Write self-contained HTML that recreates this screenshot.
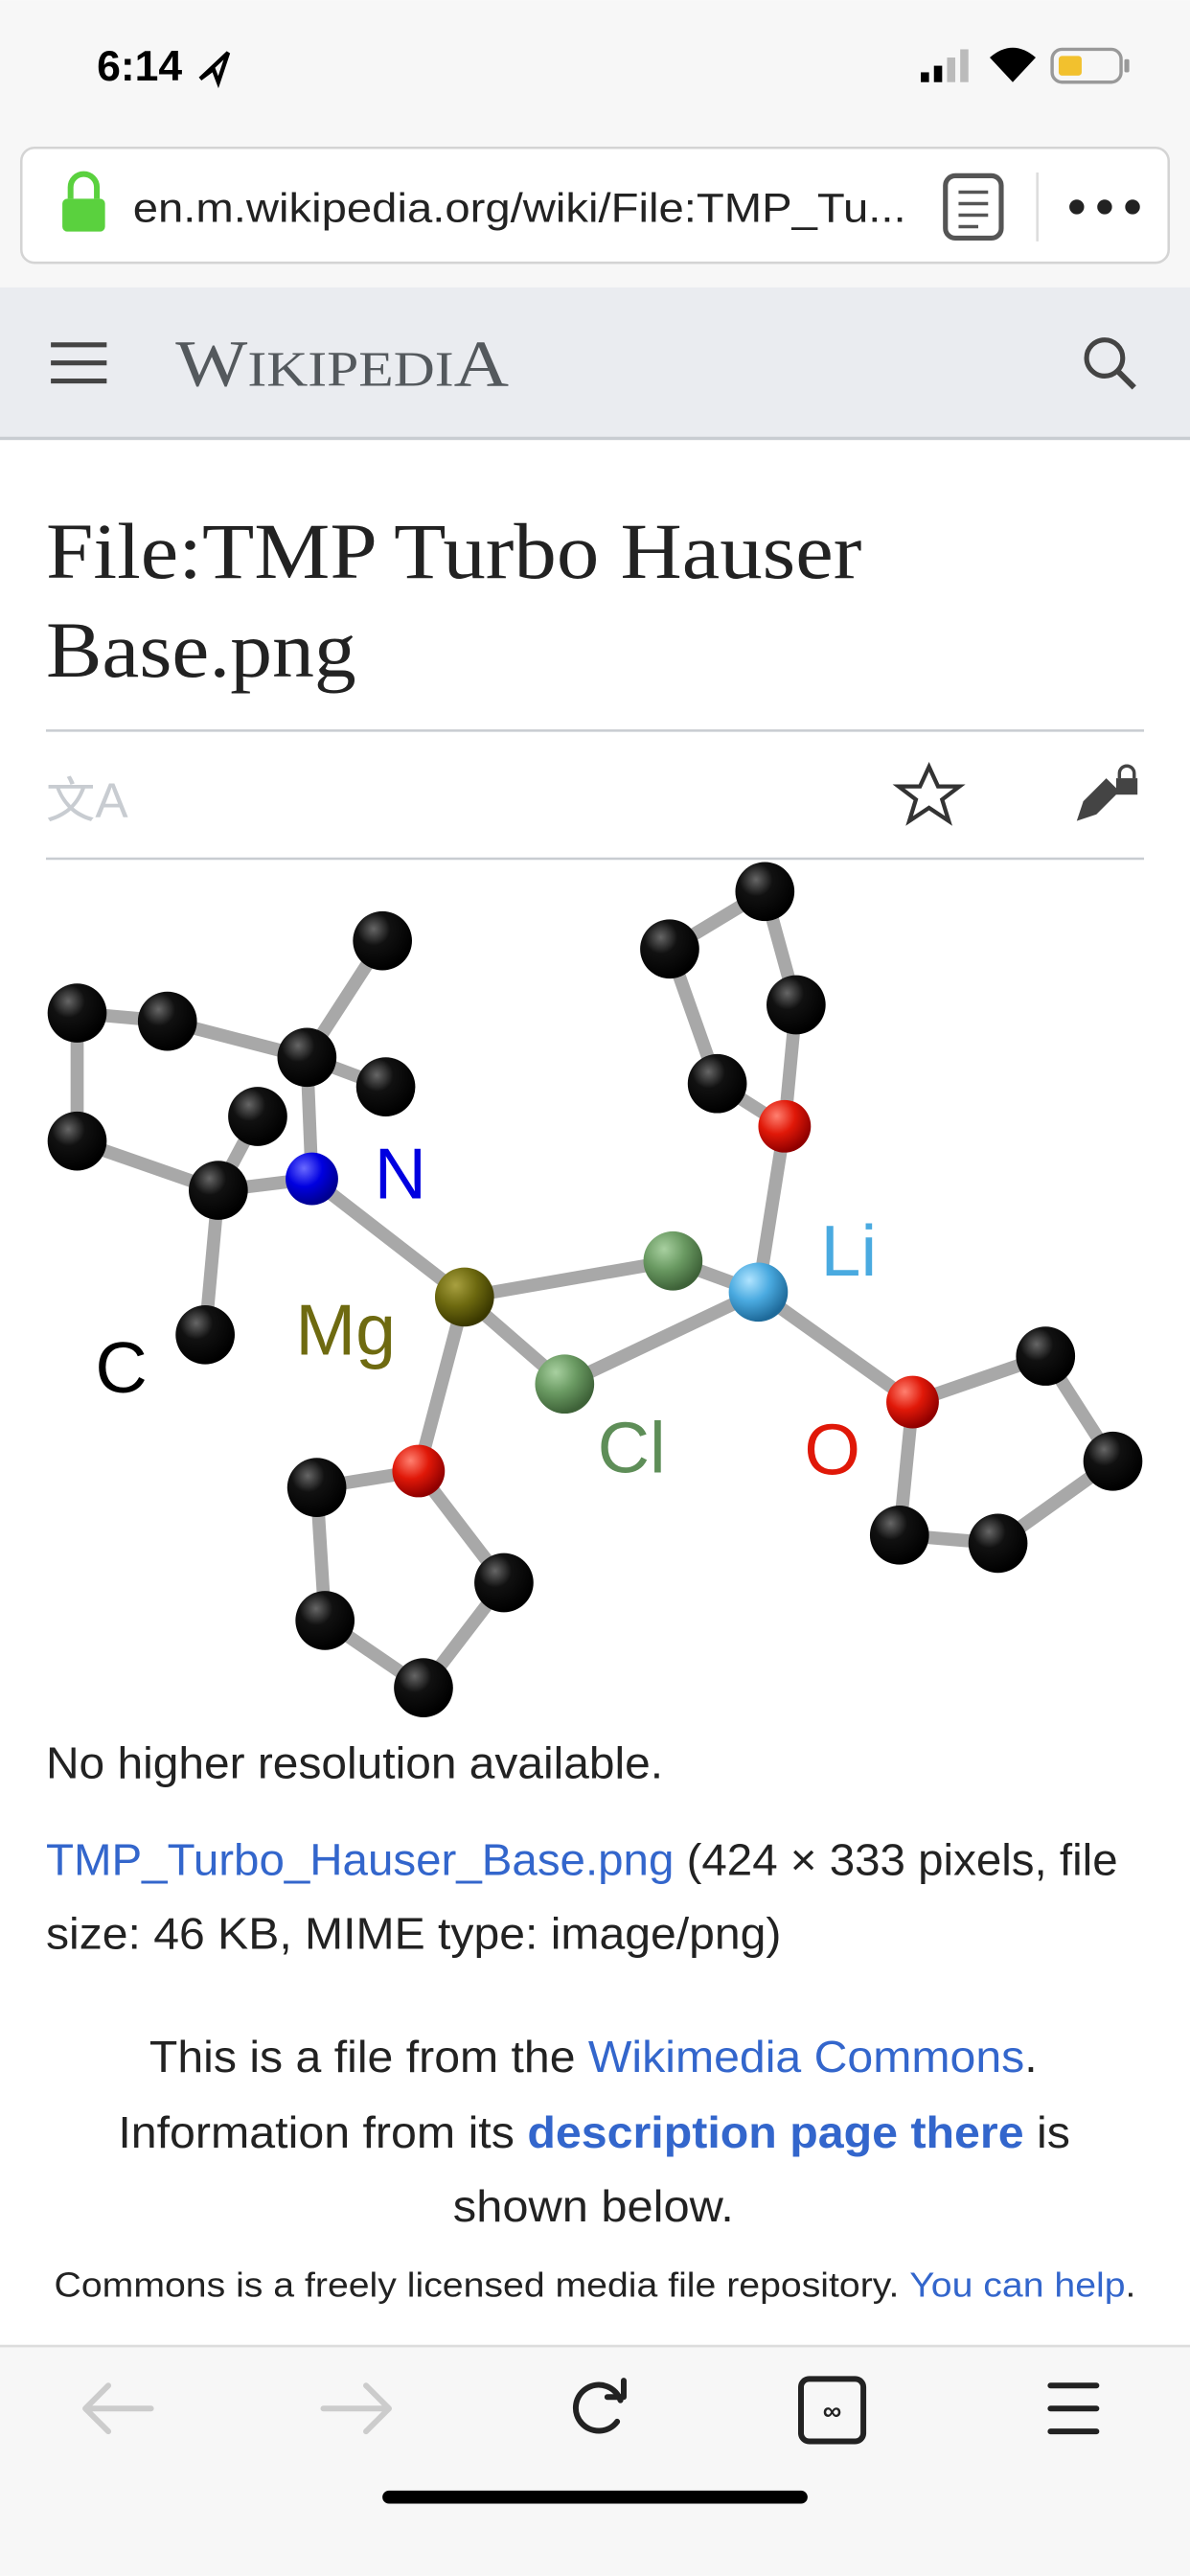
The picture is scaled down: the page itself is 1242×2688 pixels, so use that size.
<!DOCTYPE html>
<html><head><meta charset="utf-8"><style>
html,body{margin:0;padding:0;background:#fff;}
svg{display:block;}
</style></head><body>
<svg width="1242" height="2688" viewBox="0 0 725 1569" xmlns="http://www.w3.org/2000/svg" font-family="Liberation Sans, sans-serif">
<defs>
<radialGradient id="gC" cx="35%" cy="30%" r="70%"><stop offset="0" stop-color="#666"/><stop offset="0.4" stop-color="#111"/><stop offset="1" stop-color="#000"/></radialGradient>
<radialGradient id="gN" cx="35%" cy="30%" r="70%"><stop offset="0" stop-color="#6a6aff"/><stop offset="0.5" stop-color="#0000e0"/><stop offset="1" stop-color="#000090"/></radialGradient>
<radialGradient id="gMg" cx="35%" cy="30%" r="70%"><stop offset="0" stop-color="#a8a040"/><stop offset="0.5" stop-color="#6e6a10"/><stop offset="1" stop-color="#3a3800"/></radialGradient>
<radialGradient id="gCl" cx="35%" cy="30%" r="70%"><stop offset="0" stop-color="#a8d0a0"/><stop offset="0.5" stop-color="#6a9a62"/><stop offset="1" stop-color="#3e6238"/></radialGradient>
<radialGradient id="gLi" cx="35%" cy="30%" r="70%"><stop offset="0" stop-color="#b0e4ff"/><stop offset="0.5" stop-color="#4aaae0"/><stop offset="1" stop-color="#1e6a9a"/></radialGradient>
<radialGradient id="gO" cx="35%" cy="30%" r="70%"><stop offset="0" stop-color="#ff8070"/><stop offset="0.5" stop-color="#e01808"/><stop offset="1" stop-color="#900000"/></radialGradient>
</defs>
<rect width="725" height="1569" fill="#fff"/>
<!-- status bar -->
<rect width="725" height="175" fill="#f7f7f7"/>
<text x="59" y="49" font-size="26" font-weight="bold" fill="#000">6:14</text>
<path d="M122 48 L139 32 L133 50 L130 42 Z" fill="none" stroke="#000" stroke-width="2.5"/>
<rect x="561" y="44" width="5" height="6" fill="#000"/><rect x="569" y="40" width="5" height="10" fill="#000"/><rect x="577" y="35" width="5" height="15" fill="#bbb"/><rect x="585" y="30" width="5" height="20" fill="#bbb"/>
<path d="M603 35 Q617 23 631 35 L617 50 Z" fill="#000"/>
<rect x="641" y="30" width="42" height="20" rx="6" fill="none" stroke="#999" stroke-width="2"/>
<rect x="645" y="34" width="14" height="12" rx="2" fill="#f2c12e"/>
<rect x="685" y="36" width="3" height="8" rx="1" fill="#999"/>
<!-- url bar -->
<rect x="13" y="90" width="699" height="70" rx="8" fill="#fff" stroke="#d4d4d4" stroke-width="1.5"/>
<rect x="38" y="121" width="26" height="20" rx="3" fill="#5ad13e"/>
<path d="M43 121 V114 a8 8 0 0 1 16 0 V121" fill="none" stroke="#5ad13e" stroke-width="3.5"/>
<text x="81" y="135" font-size="25" fill="#222" textLength="471" lengthAdjust="spacingAndGlyphs">en.m.wikipedia.org/wiki/File:TMP_Tu...</text>
<rect x="576" y="107" width="34" height="38" rx="6" fill="none" stroke="#555" stroke-width="3"/>
<path d="M584 117 h18 M584 124 h18 M584 131 h18 M584 138 h12" stroke="#555" stroke-width="2"/>
<line x1="632" y1="105" x2="632" y2="147" stroke="#ddd" stroke-width="1.5"/>
<circle cx="656" cy="126" r="4.5" fill="#222"/><circle cx="673" cy="126" r="4.5" fill="#222"/><circle cx="690" cy="126" r="4.5" fill="#222"/>
<!-- wiki header -->
<rect x="0" y="175" width="725" height="92" fill="#eaecf0"/>
<rect x="0" y="266" width="725" height="2" fill="#c8ccd1"/>
<path d="M31 210 h34 M31 221 h34 M31 232 h34" stroke="#444" stroke-width="3"/>
<text x="107" y="235" font-family="Liberation Serif, serif" font-size="40" fill="#54595d" textLength="203" lengthAdjust="spacingAndGlyphs">W<tspan font-size="30">IKIPEDI</tspan>A</text>
<circle cx="673" cy="218" r="11" fill="none" stroke="#444" stroke-width="3"/>
<line x1="681" y1="226" x2="691" y2="236" stroke="#444" stroke-width="3.5"/>
<!-- title -->
<text x="28" y="352" font-family="Liberation Serif, serif" font-size="48" fill="#222" textLength="497" lengthAdjust="spacingAndGlyphs">File:TMP Turbo Hauser</text>
<text x="28" y="412" font-family="Liberation Serif, serif" font-size="48" fill="#222" textLength="189" lengthAdjust="spacingAndGlyphs">Base.png</text>
<line x1="28" y1="445" x2="697" y2="445" stroke="#c8ccd1" stroke-width="1.5"/>
<text x="28" y="498" font-size="30" fill="#c8ccd1" font-family="Liberation Sans, Noto Sans CJK SC, sans-serif">文A</text>
<path d="M566 467 l5.5 12 h13 l-10.5 8 l4 13 l-12 -8 l-12 8 l4 -13 l-10.5 -8 h13 z" fill="none" stroke="#333" stroke-width="2.5"/>
<path d="M656 500 l4 -12 l14 -14 l8 8 l-14 14 z" fill="#444"/>
<rect x="680" y="474" width="13" height="10" fill="#444"/><path d="M682 474 v-3 a4.5 4.5 0 0 1 9 0 v3" fill="none" stroke="#444" stroke-width="2"/>
<line x1="28" y1="523" x2="697" y2="523" stroke="#c8ccd1" stroke-width="1.5"/>
<!-- molecule bonds -->
<g stroke="#a8a8a8" stroke-width="8" stroke-linecap="round">
<line x1="47" y1="617" x2="102" y2="622"/><line x1="102" y1="622" x2="187" y2="644"/><line x1="187" y1="644" x2="233" y2="573"/><line x1="187" y1="644" x2="235" y2="662"/><line x1="187" y1="644" x2="190" y2="718"/>
<line x1="47" y1="617" x2="47" y2="695"/><line x1="47" y1="695" x2="133" y2="725"/><line x1="133" y1="725" x2="157" y2="680"/><line x1="133" y1="725" x2="190" y2="718"/><line x1="133" y1="725" x2="125" y2="813"/>
<line x1="190" y1="718" x2="283" y2="790"/><line x1="283" y1="790" x2="410" y2="768"/><line x1="283" y1="790" x2="344" y2="843"/><line x1="410" y1="768" x2="462" y2="787"/><line x1="344" y1="843" x2="462" y2="787"/>
<line x1="283" y1="790" x2="255" y2="896"/><line x1="462" y1="787" x2="478" y2="686"/><line x1="462" y1="787" x2="556" y2="854"/>
<line x1="478" y1="686" x2="485" y2="612"/><line x1="485" y1="612" x2="466" y2="543"/><line x1="466" y1="543" x2="408" y2="578"/><line x1="408" y1="578" x2="437" y2="660"/><line x1="437" y1="660" x2="478" y2="686"/>
<line x1="556" y1="854" x2="637" y2="826"/><line x1="637" y1="826" x2="678" y2="890"/><line x1="678" y1="890" x2="608" y2="940"/><line x1="608" y1="940" x2="548" y2="935"/><line x1="548" y1="935" x2="556" y2="854"/>
<line x1="255" y1="896" x2="193" y2="906"/><line x1="193" y1="906" x2="198" y2="987"/><line x1="198" y1="987" x2="258" y2="1028"/><line x1="258" y1="1028" x2="307" y2="964"/><line x1="307" y1="964" x2="255" y2="896"/>
</g>
<!-- atoms -->
<g fill="url(#gC)">
<circle cx="233" cy="573" r="18"/><circle cx="47" cy="617" r="18"/><circle cx="102" cy="622" r="18"/><circle cx="187" cy="644" r="18"/><circle cx="235" cy="662" r="18"/><circle cx="157" cy="680" r="18"/><circle cx="47" cy="695" r="18"/><circle cx="133" cy="725" r="18"/><circle cx="125" cy="813" r="18"/>
<circle cx="466" cy="543" r="18"/><circle cx="408" cy="578" r="18"/><circle cx="485" cy="612" r="18"/><circle cx="437" cy="660" r="18"/>
<circle cx="637" cy="826" r="18"/><circle cx="678" cy="890" r="18"/><circle cx="608" cy="940" r="18"/><circle cx="548" cy="935" r="18"/>
<circle cx="193" cy="906" r="18"/><circle cx="307" cy="964" r="18"/><circle cx="198" cy="987" r="18"/><circle cx="258" cy="1028" r="18"/>
</g>
<circle cx="190" cy="718" r="16" fill="url(#gN)"/>
<circle cx="283" cy="790" r="18" fill="url(#gMg)"/>
<circle cx="410" cy="768" r="18" fill="url(#gCl)"/><circle cx="344" cy="843" r="18" fill="url(#gCl)"/>
<circle cx="462" cy="787" r="18" fill="url(#gLi)"/>
<circle cx="478" cy="686" r="16" fill="url(#gO)"/><circle cx="556" cy="854" r="16" fill="url(#gO)"/><circle cx="255" cy="896" r="16" fill="url(#gO)"/>
<g font-size="44">
<text x="228" y="730" fill="#0000e0">N</text>
<text x="180" y="825" fill="#6e6a10">Mg</text>
<text x="58" y="848" fill="#000">C</text>
<text x="364" y="897" fill="#5e8e58">Cl</text>
<text x="500" y="777" fill="#4aaae0">Li</text>
<text x="490" y="898" fill="#e01808">O</text>
</g>
<!-- text -->
<text x="28" y="1083" font-size="27" fill="#222" textLength="376" lengthAdjust="spacingAndGlyphs">No higher resolution available.</text>
<text x="28" y="1142" font-size="27" fill="#222" textLength="653" lengthAdjust="spacingAndGlyphs"><tspan fill="#3366cc">TMP_Turbo_Hauser_Base.png</tspan> (424 × 333 pixels, file</text>
<text x="28" y="1187" font-size="27" fill="#222" textLength="448" lengthAdjust="spacingAndGlyphs">size: 46 KB, MIME type: image/png)</text>
<text x="91" y="1262" font-size="27" fill="#222" textLength="541" lengthAdjust="spacingAndGlyphs">This is a file from the <tspan fill="#3366cc">Wikimedia Commons</tspan>.</text>
<text x="72" y="1308" font-size="27" fill="#222" textLength="580" lengthAdjust="spacingAndGlyphs">Information from its <tspan fill="#3366cc" font-weight="bold">description page there</tspan> is</text>
<text x="276" y="1353" font-size="27" fill="#222" textLength="171" lengthAdjust="spacingAndGlyphs">shown below.</text>
<text x="33" y="1399" font-size="21" fill="#222" textLength="659" lengthAdjust="spacingAndGlyphs">Commons is a freely licensed media file repository. <tspan fill="#3366cc">You can help</tspan>.</text>
<!-- bottom bar -->
<rect x="0" y="1429" width="725" height="140" fill="#f7f7f7"/>
<line x1="0" y1="1429" x2="725" y2="1429" stroke="#ddd" stroke-width="1.5"/>
<g fill="none" stroke-width="3.5" stroke-linecap="round" stroke-linejoin="round">
<path d="M52 1467 h40 M52 1467 l14 -14 M52 1467 l14 14" stroke="#ccc"/>
<path d="M237 1467 h-40 M237 1467 l-14 -14 M237 1467 l-14 14" stroke="#ccc"/>
<path d="M378 1462 a14 14 0 1 0 -2 13" stroke="#222"/>
<path d="M370 1460 h10 v-10" stroke="#222"/>
<rect x="488" y="1449" width="38" height="38" rx="5" stroke="#222"/>
<path d="M640 1453 h28 M640 1467 h28 M640 1481 h28" stroke="#222"/>
</g>
<text x="507" y="1474" font-size="16" font-weight="bold" fill="#222" text-anchor="middle">∞</text>
<rect x="233" y="1517" width="259" height="8" rx="4" fill="#000"/>
</svg>
</body></html>
